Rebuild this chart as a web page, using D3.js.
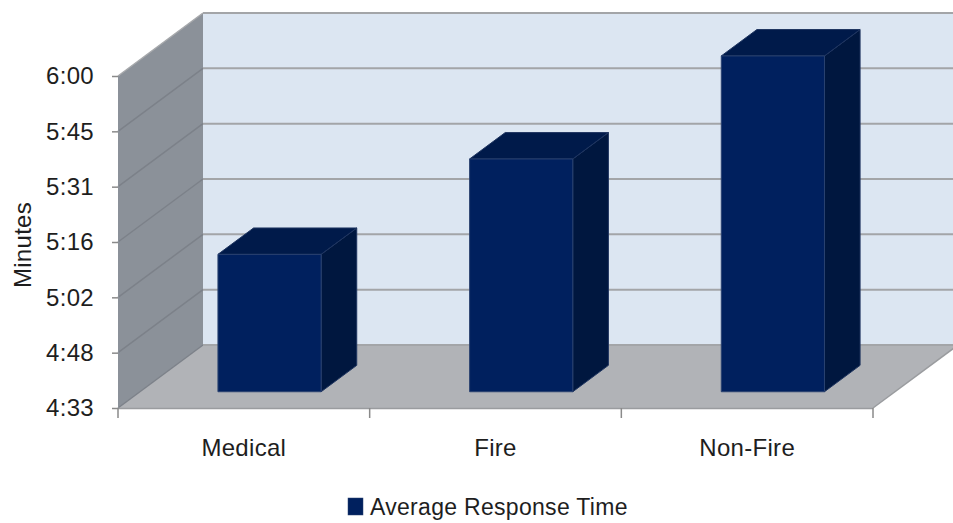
<!DOCTYPE html>
<html>
<head>
<meta charset="utf-8">
<script src="https://cdn.jsdelivr.net/npm/d3@7/dist/d3.min.js"></script>
<style>
  html, body { margin: 0; padding: 0; background: #fff; }
  svg { display: block; }
  text { font-family: "Liberation Sans", Arial, sans-serif; fill: #1e1e1e; letter-spacing: 0.3px; }
</style>
</head>
<body>
<svg id="chart" width="953" height="523"></svg>
<script>
// ---- Data ----
const categories = ["Medical", "Fire", "Non-Fire"];
const seriesName = "Average Response Time";
const values = [309, 334, 361];            // seconds (≈5:09, 5:34, 6:01)
const tickValues = [273, 287.5, 302, 316.5, 331, 345.5, 360];
const tickLabels = ["4:33", "4:48", "5:02", "5:16", "5:31", "5:45", "6:00"];
const yTitle = "Minutes";

// ---- Layout ----
const svg = d3.select("#chart");
const x0 = 118, x1 = 873, yBottom = 408, yTop = 76;
const DX = 85, DY = -63;           // full depth offset
const t0 = 0.258, t1 = 0.677;      // bar front/back depth fractions

const y = d3.scaleLinear().domain([273, 360]).range([yBottom, yTop]);
const x = d3.scaleBand().domain(categories).range([x0, x1]).paddingInner(0).paddingOuter(0);

const P = (px, py, t) => [px + DX * t, py + DY * t];
const poly = pts => pts.map(p => p.join(",")).join(" ");

// Back wall
svg.append("polygon")
  .attr("points", poly([P(x0, yBottom, 1), P(x0, yTop, 1), P(x1 + 20, yTop, 1), P(x1 + 20, yBottom, 1)]))
  .attr("fill", "#dce6f2");
// Side wall
svg.append("polygon")
  .attr("points", poly([P(x0, yBottom, 0), P(x0, yTop, 0), P(x0, yTop, 1), P(x0, yBottom, 1)]))
  .attr("fill", "#8b9199");
// Floor
svg.append("polygon")
  .attr("points", poly([P(x0, yBottom, 0), P(x1, yBottom, 0), P(x1, yBottom, 1), P(x0, yBottom, 1)]))
  .attr("fill", "#b1b3b7");

// Gridlines
const grid = svg.append("g");
tickValues.forEach((v, i) => {
  const yy = y(v);
  const a = P(x0, yy, 0), b = P(x0, yy, 1), c = P(x1 + 20, yy, 1);
  grid.append("line")
    .attr("x1", a[0]).attr("y1", a[1]).attr("x2", b[0]).attr("y2", b[1])
    .attr("stroke", i === tickValues.length - 1 ? "#a7a9ac" : "#7c8189").attr("stroke-width", 1.5);
  grid.append("line")
    .attr("x1", b[0]).attr("y1", b[1]).attr("x2", c[0]).attr("y2", c[1])
    .attr("stroke", "#a3a5a8").attr("stroke-width", 2);
});
// floor right edge & front edge
svg.append("line")
  .attr("x1", P(x1, yBottom, 0)[0]).attr("y1", yBottom)
  .attr("x2", P(x1, yBottom, 1)[0]).attr("y2", P(x1, yBottom, 1)[1])
  .attr("stroke", "#9a9c9f").attr("stroke-width", 1.5);
svg.append("line")
  .attr("x1", x0).attr("y1", yBottom + 0.5).attr("x2", x1).attr("y2", yBottom + 0.5)
  .attr("stroke", "#9a9c9f").attr("stroke-width", 1.5);

// Y axis (front plane)
const yAxis = d3.axisLeft(y).tickValues(tickValues).tickFormat((d, i) => tickLabels[i]).tickSize(6).tickPadding(18);
const gy = svg.append("g").attr("transform", `translate(${x0},0)`).call(yAxis);
gy.select(".domain").attr("stroke", "#8b9199").attr("stroke-width", 1);
gy.selectAll(".tick line").attr("stroke", "#8a8a8a").attr("stroke-width", 1.5);
gy.selectAll(".tick text").style("font-size", "24px").attr("fill", "#1e1e1e")
  .style("font-family", "'Liberation Sans', Arial, sans-serif");

// X axis
const xAxis = d3.axisBottom(x).tickSize(0).tickPadding(31);
const gx = svg.append("g").attr("transform", `translate(0,${yBottom})`).call(xAxis);
gx.select(".domain").remove();
gx.selectAll(".tick text").style("font-size", "24px").attr("fill", "#1e1e1e")
  .style("font-family", "'Liberation Sans', Arial, sans-serif");
// category boundary ticks
const bounds = categories.map(c => x(c)).concat([x1]);
svg.append("g").selectAll("line").data(bounds).join("line")
  .attr("x1", d => d).attr("x2", d => d)
  .attr("y1", yBottom).attr("y2", yBottom + 10)
  .attr("stroke", "#8a8a8a").attr("stroke-width", 1.5);

// Bars
const bw = x.bandwidth() * 0.41;
const boff = x.bandwidth() * 0.31;
const bars = svg.append("g");
categories.forEach((c, i) => {
  const xl = x(c) + boff, xr = xl + bw;
  const yt = y(values[i]), yb = y(273);
  const fTL = P(xl, yt, t0), fTR = P(xr, yt, t0), fBR = P(xr, yb, t0), fBL = P(xl, yb, t0);
  const bTL = P(xl, yt, t1), bTR = P(xr, yt, t1), bBR = P(xr, yb, t1);
  bars.append("polygon").attr("points", poly([fTR, bTR, bBR, fBR]))
    .attr("fill", "#00173f").attr("stroke", "#1f3560").attr("stroke-width", 1);
  bars.append("polygon").attr("points", poly([fTL, bTL, bTR, fTR]))
    .attr("fill", "#001a4a").attr("stroke", "#1f3560").attr("stroke-width", 1);
  bars.append("polygon").attr("points", poly([fTL, fTR, fBR, fBL]))
    .attr("fill", "#00205e").attr("stroke", "#2a4270").attr("stroke-width", 1);
});

// Y title
svg.append("text")
  .attr("transform", "translate(31,245) rotate(-90)")
  .attr("text-anchor", "middle")
  .style("font-size", "24px")
  .text(yTitle);

// Legend
const lg = svg.append("g");
lg.append("rect").attr("x", 348).attr("y", 498).attr("width", 15).attr("height", 17)
  .attr("fill", "#00205e").attr("stroke", "#2a4270").attr("stroke-width", 0.5);
lg.append("text").attr("x", 370).attr("y", 515).style("font-size", "23px").text(seriesName);
</script>
</body>
</html>
